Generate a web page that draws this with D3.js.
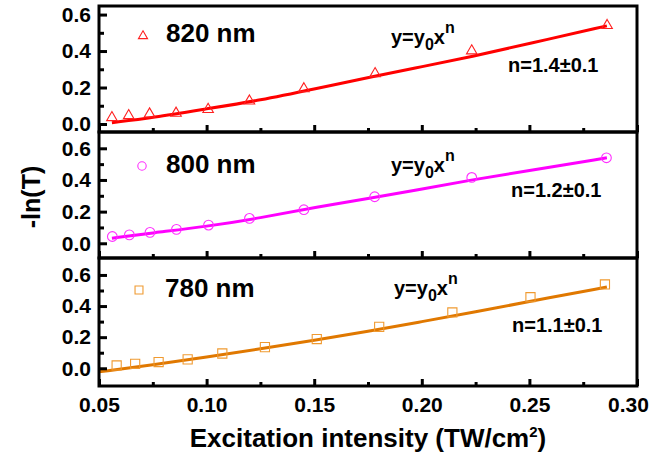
<!DOCTYPE html>
<html>
<head>
<meta charset="utf-8">
<script src="https://cdn.jsdelivr.net/npm/d3@7"></script>
<style>
  body { margin: 0; background: #fff; }
  svg text { font-family: "Liberation Sans", Arial, sans-serif; font-weight: bold; fill: #000; }
</style>
</head>
<body>
<div id="content"></div>
<script>
/* values */

const WIDTH = 655;
const HEIGHT = 457;

// 820 nm (triangles)
const x820 = [0.0560, 0.0638, 0.0735, 0.0858, 0.1007, 0.1199, 0.1452, 0.1783, 0.2232, 0.2861];
const y820 = [0.035, 0.046, 0.055, 0.059, 0.080, 0.126, 0.193, 0.276, 0.401, 0.540];
const fitX820 = [0.056, 0.075, 0.10, 0.125, 0.15, 0.178, 0.20, 0.223, 0.25, 0.286];
const fitY820 = [0.007, 0.035, 0.083, 0.130, 0.192, 0.262, 0.314, 0.369, 0.441, 0.538];

// 800 nm (circles)
const x800 = [0.0562, 0.0641, 0.0737, 0.0860, 0.1009, 0.1199, 0.1452, 0.1781, 0.2232, 0.2858];
const y800 = [0.043, 0.053, 0.069, 0.088, 0.115, 0.157, 0.212, 0.294, 0.416, 0.540];
const fitX800 = [0.056, 0.075, 0.10, 0.125, 0.15, 0.178, 0.20, 0.223, 0.25, 0.286];
const fitY800 = [0.032, 0.066, 0.106, 0.160, 0.226, 0.289, 0.343, 0.400, 0.460, 0.540];

// 780 nm (squares)
const x780 = [0.0582, 0.0668, 0.0777, 0.0912, 0.1073, 0.1271, 0.1512, 0.1802, 0.2142, 0.2505, 0.2851];
const y780 = [0.018, 0.029, 0.040, 0.057, 0.095, 0.136, 0.188, 0.266, 0.359, 0.457, 0.539];
const fitX780 = [0.05, 0.075, 0.10, 0.125, 0.15, 0.175, 0.20, 0.225, 0.25, 0.286];
const fitY780 = [-0.023, 0.021, 0.072, 0.125, 0.180, 0.238, 0.300, 0.362, 0.430, 0.522];

const wavelengths = ["820 nm", "800 nm", "780 nm"];
const exponents = ["n=1.4", "n=1.2", "n=1.1"];
const xTicks = [0.05, 0.10, 0.15, 0.20, 0.25, 0.30];
const xMinorTicks = [0.075, 0.125, 0.175, 0.225, 0.275];
const yTicks = [0.0, 0.2, 0.4, 0.6];
const yMinorTicks = [0.1, 0.3, 0.5];

// y extent of each panel (value at panel bottom, value at panel top)
const yDomains = [[-0.044, 0.647], [-0.093, 0.703], [-0.114, 0.709]];

/* layout */
const X0 = 99, X1 = 637;
const panelTops = [6, 132, 258];
const panelBottoms = [132, 258, 386];
const colors = ["#ff0000", "#ff00ff", "#e07800"];
const markerColors = ["#ff2020", "#ff30ff", "#f09a30"];
const symbols = [d3.symbolTriangle, d3.symbolCircle, d3.symbolSquare];
const symbolSizes = [48, 74, 84];

const series = [
    {x: x820, y: y820, fx: fitX820, fy: fitY820},
    {x: x800, y: y800, fx: fitX800, fy: fitY800},
    {x: x780, y: y780, fx: fitX780, fy: fitY780}
];

// text positions inside each panel
const legendPos = [{mx: 143, my: 36, tx: 166, ty: 42}, {mx: 142, my: 166, tx: 166, ty: 173}, {mx: 139, my: 290, tx: 165, ty: 297}];
const formulaPos = [{x: 391, y: 44}, {x: 391, y: 172}, {x: 394, y: 295}];
const expPos = [{x: 508, y: 72}, {x: 511, y: 197}, {x: 512, y: 332}];

window.onload = () => {
    const svg = d3.select("#content").append("svg")
        .attr("width", WIDTH).attr("height", HEIGHT);

    const x = d3.scaleLinear().domain([0.05, 0.30]).range([X0, X1]);

    series.forEach((s, i) => {
        const top = panelTops[i], bottom = panelBottoms[i];
        const y = d3.scaleLinear().domain(yDomains[i]).range([bottom, top]);
        const g = svg.append("g");

        // fit line
        const pts = s.fx.map((v, k) => [v, s.fy[k]]);
        g.append("path")
            .attr("d", d3.line().x(d => x(d[0])).y(d => y(d[1])).curve(d3.curveBasis)(pts))
            .attr("fill", "none")
            .attr("stroke", colors[i])
            .attr("stroke-width", 3);

        // markers
        const sym = d3.symbol().type(symbols[i]).size(symbolSizes[i]);
        g.selectAll("path.pt")
            .data(s.x.map((v, k) => [v, s.y[k]]))
            .enter().append("path")
            .attr("class", "pt")
            .attr("d", sym)
            .attr("transform", d => "translate(" + [x(d[0]), y(d[1])] + ")")
            .attr("fill", "none")
            .attr("stroke", markerColors[i])
            .attr("stroke-width", 1.1);

        // left axis, ticks pointing inward
        const yAxis = g.append("g").attr("transform", "translate(" + X0 + ",0)")
            .call(d3.axisLeft(y).tickValues(yTicks).tickFormat(d3.format(".1f")).tickSizeInner(-8).tickSizeOuter(0).tickPadding(8));
        yAxis.append("g")
            .call(d3.axisLeft(y).tickValues(yMinorTicks).tickFormat("").tickSizeInner(-5).tickSizeOuter(0));
        yAxis.selectAll(".domain").remove();
        yAxis.selectAll("line").attr("stroke", "#000").attr("stroke-width", 3);
        yAxis.selectAll("text").style("font-size", "21px").attr("fill", "#000");

        // bottom axis of panel, ticks pointing up
        const xAxis = g.append("g").attr("transform", "translate(0," + bottom + ")")
            .call(d3.axisBottom(x).tickValues(xTicks).tickFormat(i === 2 ? d3.format(".2f") : "").tickSizeInner(-7).tickSizeOuter(0).tickPadding(11));
        xAxis.append("g")
            .call(d3.axisBottom(x).tickValues(xMinorTicks).tickFormat("").tickSizeInner(-4).tickSizeOuter(0));
        xAxis.selectAll(".domain").remove();
        xAxis.selectAll("line").attr("stroke", "#000").attr("stroke-width", 3);
        xAxis.selectAll("text").style("font-size", "21px").attr("fill", "#000");
        // the last label sits at the page edge; nudge it in so it is not clipped
        xAxis.selectAll(".tick text").filter(d => d === 0.30).attr("dx", -9);

        // frame
        g.append("rect")
            .attr("x", X0).attr("y", top)
            .attr("width", X1 - X0).attr("height", bottom - top)
            .attr("fill", "none").attr("stroke", "#000").attr("stroke-width", 3);

        // legend
        const lp = legendPos[i];
        g.append("path")
            .attr("d", d3.symbol().type(symbols[i]).size(symbolSizes[i] * 0.75))
            .attr("transform", "translate(" + [lp.mx, lp.my] + ")")
            .attr("fill", "none").attr("stroke", markerColors[i]).attr("stroke-width", 1.1);
        g.append("text").attr("x", lp.tx).attr("y", lp.ty)
            .style("font-size", "26px").text(wavelengths[i]);

        // formula y=y0x^n
        const fp = formulaPos[i];
        const f = g.append("text").attr("x", fp.x).attr("y", fp.y).style("font-size", "20px");
        f.append("tspan").text("y=y");
        f.append("tspan").attr("dy", 6).style("font-size", "16px").text("0");
        f.append("tspan").attr("dy", -6).text("x");
        f.append("tspan").attr("dy", -11).style("font-size", "16px").text("n");

        const ep = expPos[i];
        g.append("text").attr("x", ep.x).attr("y", ep.y)
            .style("font-size", "20px").text(exponents[i] + "±0.1");
    });

    // axis titles
    svg.append("text")
        .attr("transform", "translate(40,197) rotate(-90)")
        .attr("text-anchor", "middle")
        .style("font-size", "25px")
        .text("-ln(T)");

    const t = svg.append("text")
        .attr("x", 368).attr("y", 447)
        .attr("text-anchor", "middle")
        .style("font-size", "26px");
    t.append("tspan").text("Excitation intensity (TW/cm");
    t.append("tspan").attr("dy", -10).style("font-size", "15px").text("2");
    t.append("tspan").attr("dy", 10).text(")");
};
</script>
</body>
</html>
